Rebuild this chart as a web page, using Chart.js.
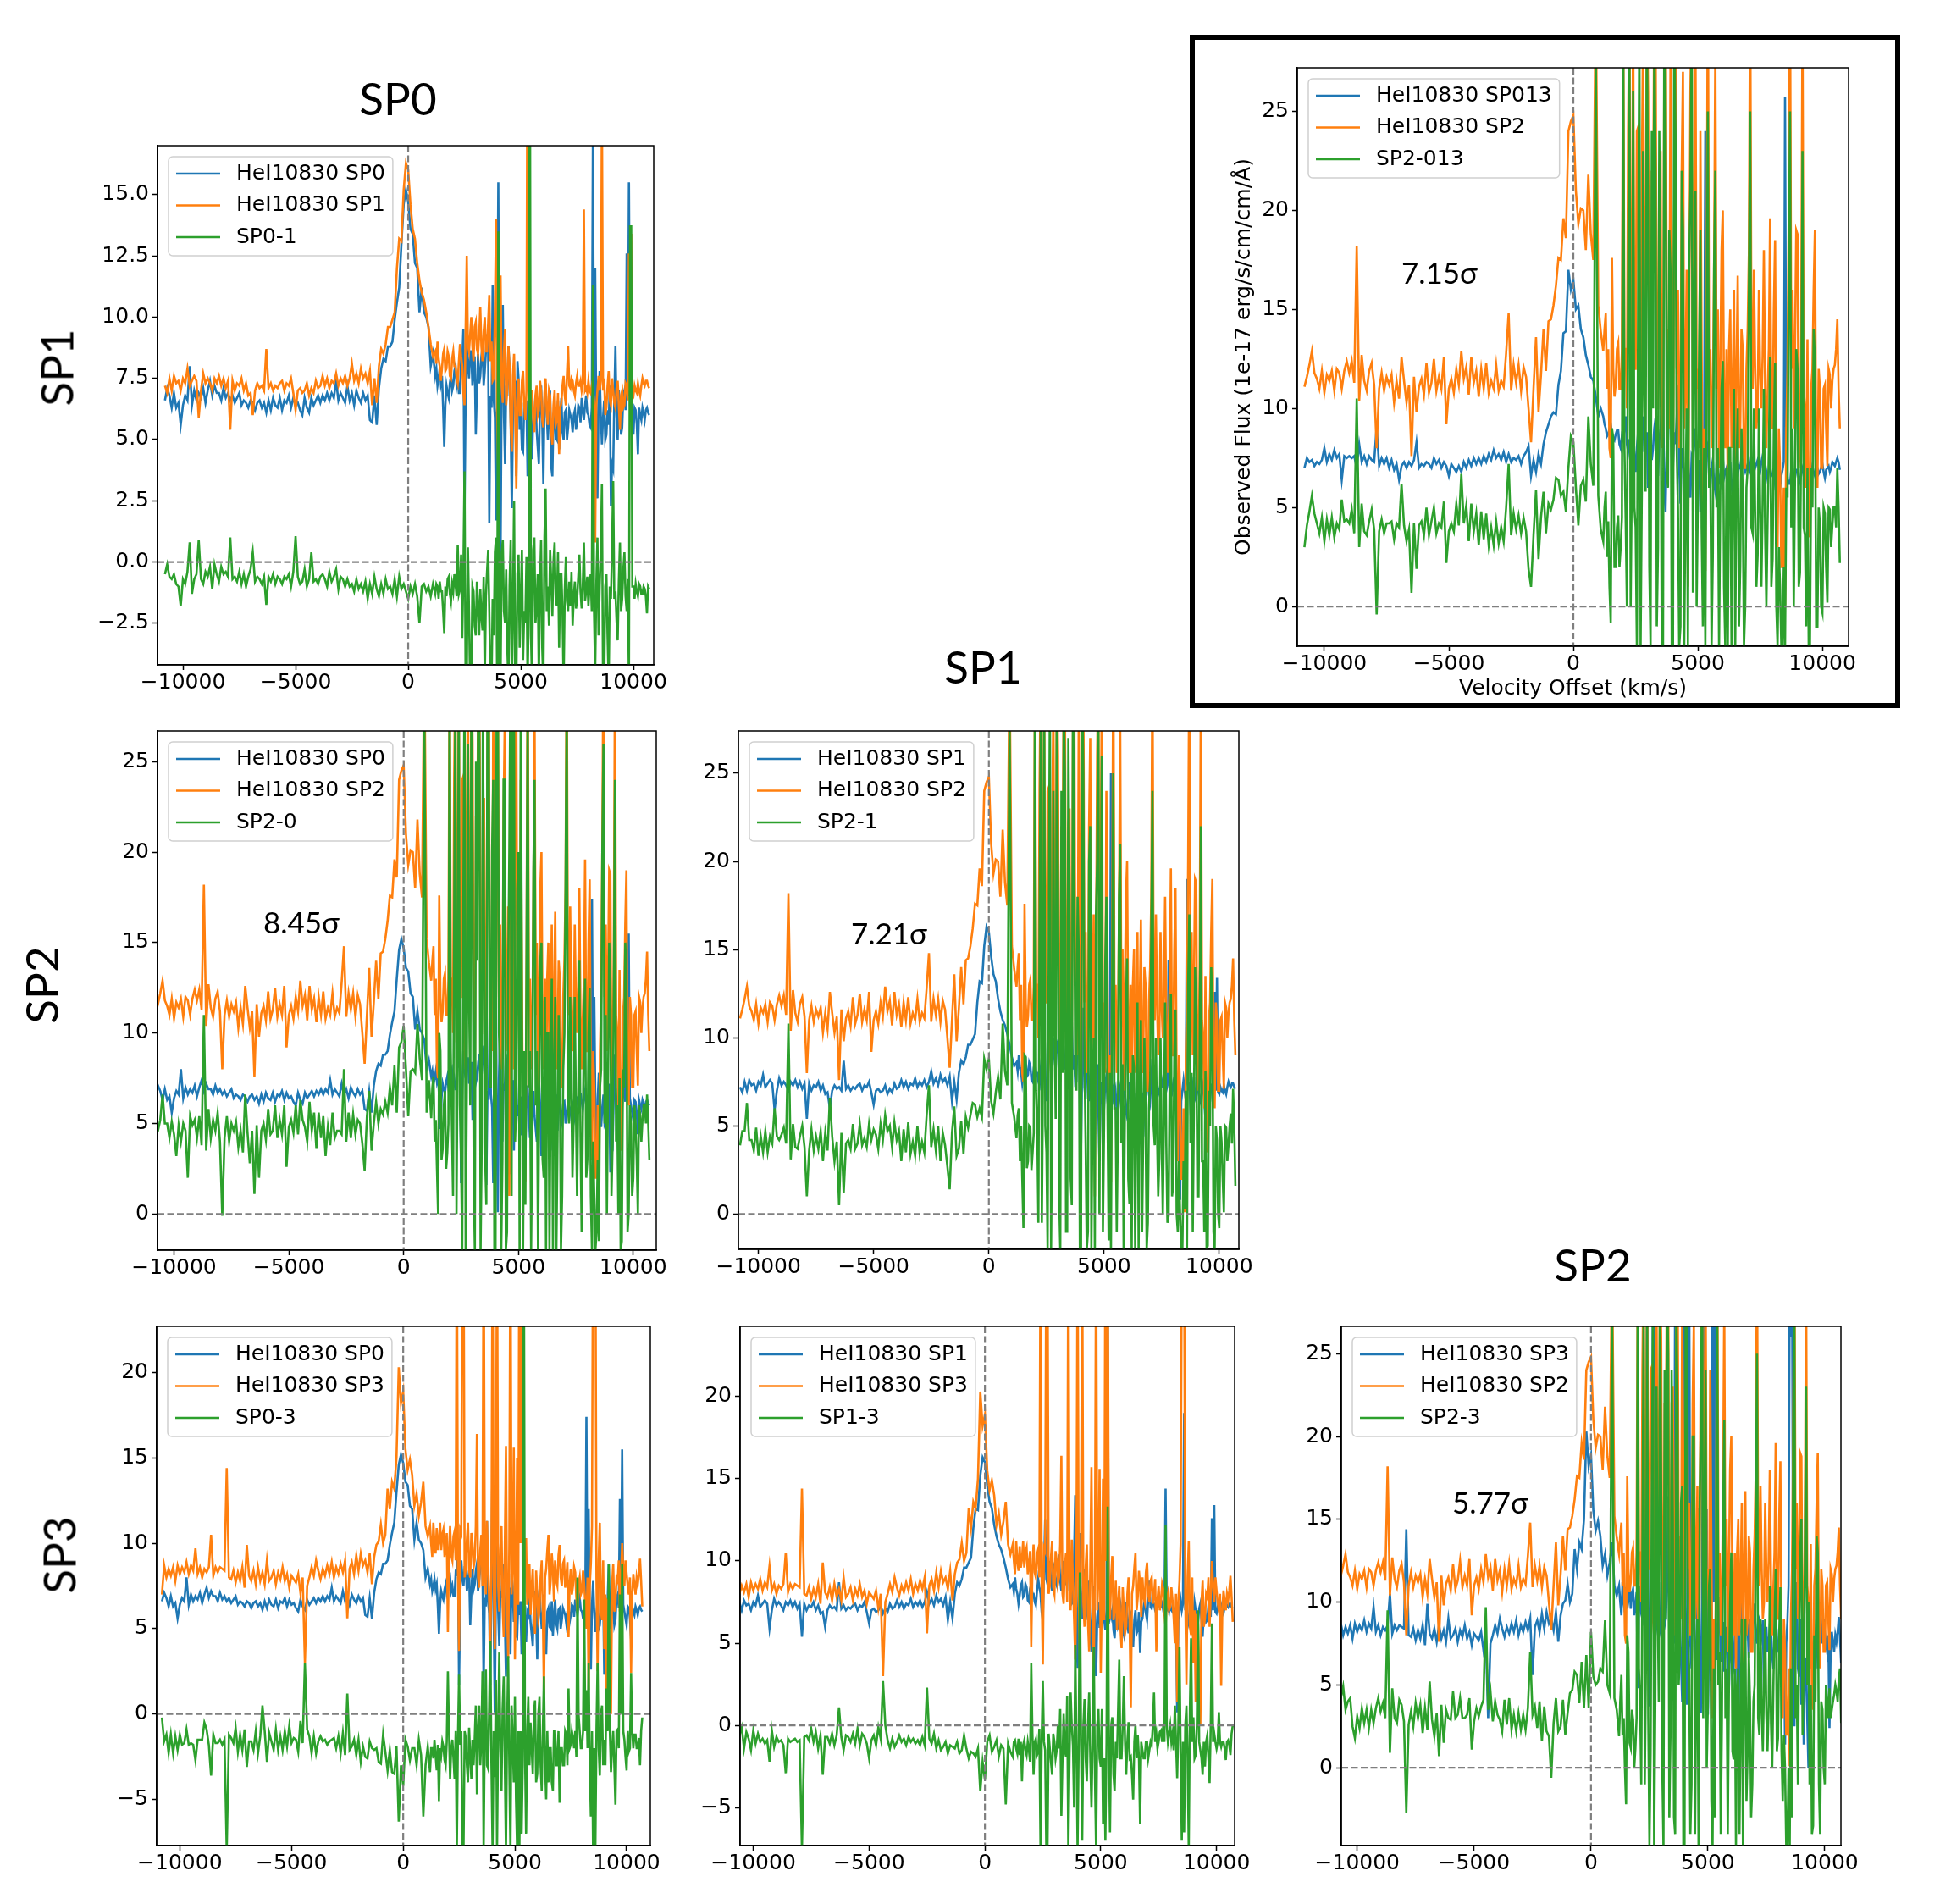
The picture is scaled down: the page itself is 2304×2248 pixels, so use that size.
<!DOCTYPE html>
<html>
<head>
<meta charset="utf-8">
<title>HeI10830 spectra comparison</title>
<script src="https://cdn.jsdelivr.net/npm/chart.js@4"></script>
<style>
    html, body { margin: 0; padding: 0; background: #fff; }
    #page { position: relative; width: 2304px; height: 2248px; overflow: hidden; }
    canvas { position: absolute; }
    .big { position: absolute; font-family: Lato, sans-serif; color: #000; white-space: nowrap; transform: translate(-50%, -50%); }
    #frame { position: absolute; border: 6px solid #000; box-sizing: border-box; }
</style>
</head>
<body>
<div id="page"></div>
<script>
// Velocity grid, km/s (finer where the spectra get noisy)
const velocity = [
    -10800,-10700,-10600,-10500,-10400,-10300,-10200,-10100,-10000,-9900,-9800,-9700,-9600,-9500,-9400,-9300,-9200,-9100,-9000,-8900,
    -8800,-8700,-8600,-8500,-8400,-8300,-8200,-8100,-8000,-7900,-7800,-7700,-7600,-7500,-7400,-7300,-7200,-7100,-7000,-6900,
    -6800,-6700,-6600,-6500,-6400,-6300,-6200,-6100,-6000,-5900,-5800,-5700,-5600,-5500,-5400,-5300,-5200,-5100,-5000,-4900,
    -4800,-4700,-4600,-4500,-4400,-4300,-4200,-4100,-4000,-3900,-3800,-3700,-3600,-3500,-3400,-3300,-3200,-3100,-3000,-2900,
    -2800,-2700,-2600,-2500,-2400,-2300,-2200,-2100,-2000,-1900,-1800,-1700,-1600,-1500,-1400,-1300,-1200,-1100,-1000,-900,
    -800,-700,-600,-500,-400,-300,-200,-100,0,100,200,300,400,500,600,700,800,900,1000,1100,
    1200,1250,1300,1350,1400,1450,1500,1550,1600,1650,1700,1750,1800,1850,1900,1950,2000,2050,2100,2150,
    2200,2250,2300,2350,2400,2450,2500,2550,2600,2650,2700,2750,2800,2850,2900,2950,3000,3050,3100,3150,
    3200,3250,3300,3350,3400,3450,3500,3550,3600,3650,3700,3750,3800,3850,3900,3950,4000,4050,4100,4150,
    4200,4250,4300,4350,4400,4450,4500,4550,4600,4650,4700,4750,4800,4850,4900,4950,5000,5050,5100,5150,
    5200,5250,5300,5350,5400,5450,5500,5550,5600,5650,5700,5750,5800,5850,5900,5950,6000,6050,6100,6150,
    6200,6250,6300,6350,6400,6450,6500,6550,6600,6650,6700,6750,6800,6850,6900,6950,7000,7050,7100,7150,
    7200,7250,7300,7350,7400,7450,7500,7550,7600,7650,7700,7750,7800,7850,7900,7950,8000,8050,8100,8150,
    8200,8250,8300,8350,8400,8450,8500,8550,8600,8650,8700,8750,8800,8850,8900,8950,9000,9050,9100,9150,
    9200,9250,9300,9350,9400,9450,9500,9550,9600,9650,9700,9750,9800,9850,9900,9950,10000,10050,10100,10150,
    10200,10250,10300,10350,10400,10450,10500,10550,10600,10650,10700
];
const xTicks = [-10000, -5000, 0, 5000, 10000];

// Spectra
const sp0 = [
    6.6,7.1,6.8,6.3,6.9,6.3,6.5,5.6,6.4,6.8,6.6,8.0,6.4,7.0,6.6,6.9,6.7,7.1,6.5,7.0,
    7.4,6.8,7.2,6.9,6.9,6.6,7.1,6.7,6.9,6.6,6.8,6.5,6.7,6.9,6.4,6.6,6.5,6.3,6.6,6.5,
    6.2,6.5,6.6,6.3,6.5,6.1,6.6,6.2,6.7,6.4,6.3,6.7,6.2,6.6,6.5,6.8,6.3,6.7,6.4,6.5,
    6.2,6.0,6.7,6.3,6.1,6.7,6.4,6.6,6.8,6.5,6.8,6.6,6.9,6.6,6.9,6.7,7.4,6.6,6.9,6.7,
    6.5,7.2,6.6,6.9,6.4,7.0,6.7,6.5,6.9,6.6,6.8,5.8,5.7,6.8,5.6,7.1,7.9,8.3,8.2,8.8,
    8.8,9.0,9.9,10.6,11.2,13.0,14.6,15.2,14.7,13.6,13.4,12.2,12.0,10.2,11.2,10.2,10.0,9.6,8.0,8.5,
    7.6,7.9,7.2,7.5,7.9,7.3,7.6,6.3,4.7,6.4,7.2,6.9,6.7,7.3,7.6,7.0,7.2,7.8,8.0,7.2,
    7.5,6.9,6.9,8.3,8.2,9.5,1.7,6.8,9.0,8.0,7.5,8.6,8.6,7.2,7.8,8.4,5.2,7.0,8.5,7.3,
    7.6,8.4,8.8,7.2,7.8,8.6,9.3,8.5,1.6,6.8,6.3,11.3,6.6,5.9,1.7,8.0,15.5,6.1,0.1,7.5,
    10.5,6.0,4.0,7.2,6.8,8.8,7.9,5.6,2.2,6.0,7.0,7.4,3.5,8.2,7.5,5.4,6.0,4.6,4.5,6.5,
    5.8,6.6,3.5,6.2,7.1,5.6,4.2,6.0,5.8,6.8,5.4,4.7,4.0,6.4,7.2,5.8,3.2,6.6,7.3,6.0,
    5.0,5.9,7.0,3.9,3.5,6.0,6.2,5.1,5.0,6.6,4.6,5.8,6.7,5.3,5.0,6.1,6.2,5.0,5.5,6.2,
    6.0,5.8,5.3,6.0,6.2,5.4,5.8,6.4,6.3,5.7,6.7,6.2,5.8,6.4,6.8,6.1,6.0,5.6,5.5,6.3,
    17.4,6.0,12.0,5.6,2.6,6.4,7.8,6.0,4.8,5.9,6.6,5.0,5.2,6.2,5.6,7.2,2.3,4.0,3.8,6.6,
    8.8,6.0,5.0,7.0,6.3,5.2,5.5,6.8,7.0,6.2,12.6,6.8,15.5,6.4,6.0,5.6,5.2,6.3,6.2,5.6,
    4.4,6.3,6.0,5.8,6.3,6.1,5.8,6.2,6.3,6.1,6.0
];
const sp1 = [
    7.2,6.9,7.5,7.0,7.6,7.3,7.4,7.0,7.5,7.3,7.9,7.2,7.4,7.6,7.4,5.9,7.0,7.7,7.3,7.5,
    7.3,7.0,7.5,7.3,7.6,7.2,7.5,7.1,7.4,5.4,7.4,7.0,7.3,7.2,7.5,7.0,7.3,6.8,6.9,6.0,
    7.0,7.3,7.1,7.2,7.0,8.7,7.1,7.3,7.0,7.2,7.1,7.3,7.4,7.0,7.3,7.2,7.5,6.9,6.2,7.0,
    7.1,6.9,7.0,7.3,6.8,7.1,6.9,7.4,7.1,7.2,7.6,7.2,7.5,7.1,7.4,7.3,7.7,7.2,7.5,7.3,
    7.6,7.2,7.5,8.1,7.4,7.7,7.3,7.9,7.5,7.7,7.3,7.8,6.4,7.5,6.5,8.0,8.7,8.5,8.9,9.6,
    9.6,9.9,10.2,12.0,13.2,13.1,15.2,16.3,16.0,14.6,13.6,13.2,12.2,11.5,11.0,10.7,10.2,9.6,8.9,8.4,
    8.6,8.1,9.0,8.3,8.0,7.4,7.9,8.5,8.7,7.8,7.9,8.6,8.4,7.6,7.5,8.3,8.6,8.0,8.0,7.5,
    7.3,8.2,8.9,8.4,8.0,6.9,6.4,9.5,12.5,8.9,8.6,9.3,10.0,8.8,8.2,9.6,9.8,8.7,8.5,9.2,
    10.4,8.8,8.2,9.4,10.0,8.6,8.6,9.8,10.9,8.2,9.0,7.4,7.5,10.2,14.0,6.0,3.5,8.4,11.7,7.2,
    6.5,8.6,9.5,6.4,7.0,8.8,8.0,5.6,4.5,7.6,8.5,6.2,3.0,6.6,7.5,6.0,6.0,7.4,7.8,6.4,
    5.8,7.0,25,6.2,7.0,6.6,7.0,5.8,5.3,6.8,7.2,6.0,6.2,7.4,7.0,5.8,5.5,6.9,7.5,6.1,
    5.6,7.0,6.8,5.3,4.8,6.4,7.0,5.6,5.8,6.9,4.4,6.3,6.5,7.2,7.6,6.8,6.4,7.7,8.8,7.2,
    7.1,7.5,7.4,7.0,6.8,7.3,7.6,7.2,7.2,7.4,7.0,7.3,14.4,7.0,7.1,6.9,7.4,7.0,6.9,7.2,
    7.0,6.6,0.8,6.4,7.0,7.6,7.0,7.4,19.0,7.0,7.5,6.0,6.3,7.2,7.8,6.6,6.4,7.5,7.0,6.5,
    6.3,7.1,7.4,6.4,5.4,6.8,7.0,6.3,6.4,7.3,7.2,6.6,12.6,7.0,13.4,6.9,6.8,7.2,7.0,6.9,
    7.3,7.0,6.8,7.2,7.5,7.3,7.2,7.4,7.4,7.2,7.1
];
const sp2 = [
    11.1,11.6,12.2,12.9,11.8,11.5,11.0,11.9,10.8,11.7,11.4,11.9,10.9,12.0,11.8,11.0,11.9,12.4,11.8,12.4,
    11.3,18.2,10.4,12.7,11.4,10.9,11.9,12.3,11.2,8.0,11.0,11.8,10.9,11.6,11.2,11.7,10.3,11.4,10.5,12.6,
    11.4,10.3,11.2,7.6,11.6,9.8,11.1,11.5,10.7,12.3,10.8,11.3,12.5,10.9,11.6,11.0,12.6,9.2,11.0,11.5,
    10.8,12.0,11.2,12.9,11.5,12.1,10.7,12.6,11.3,11.9,10.6,12.0,11.0,12.3,10.8,11.4,11.0,12.2,10.9,11.4,
    11.1,12.8,14.8,10.9,12.2,11.3,12.2,10.9,12.1,11.6,10.0,8.3,11.0,13.6,9.8,11.7,14.0,11.9,14.4,14.5,
    15.2,16.2,17.6,17.5,19.6,18.6,24.0,24.5,24.8,21.0,19.3,20.1,20.0,18.0,21.8,18.8,17.5,31,15.2,13.9,
    12.9,14.0,14.8,11.0,13.0,8.0,7.5,17.6,12.0,10.6,11.2,13.0,13.3,11.0,11.0,12.9,31,13.0,13.0,10,
    24,31,9.5,16,30,12,12,24,24.2,9,8,22,29,14,14,31,26,9,7.5,22,
    18,31,30,10,10,22,23,8,8.6,27,32,13,14,9,28,17,6,19,31,12,
    16,8,9,22,27,9,11,17,1.0,14,26,31,8,18,30,11,12,8,24,13,
    3,9,1.8,14,33,12,13,8,10,17,28,11,15,7,12,18,20,10,8,13,
    6,13,15,8,11,16,5,12,16.7,8,9,14,13,7,7,12,14,18,32,13,
    11,17,12,9,10,16,11.8,10,12.6,18,11,8,10.8,13,19.6,9,9,15,18.5,7,
    3,9,7,2,2,6,0.1,9,12,20,32,12,16,9,13,19,18.8,7,8,14,
    30,11,10,6,13.5,4,3.5,11,12,16,19,7,6,12,11,7,7,11,11.2,9,
    7.1,12,11.7,10,11.4,12,12.2,13,14.5,11,9.0
];
const sp3 = [
    7.0,8.7,8.0,8.5,8.1,8.6,7.8,8.7,8.2,8.6,8.3,8.9,8.2,8.7,8.4,9.7,8.2,8.6,8.0,8.5,
    8.3,8.6,10.5,8.1,8.6,8.3,8.6,8.5,8.4,14.4,8.0,7.9,8.4,7.7,8.3,7.8,8.6,7.4,9.9,8.1,
    7.8,8.4,7.6,8.6,7.8,8.3,7.6,9.0,7.8,8.0,8.4,7.6,8.3,7.9,8.6,7.8,8.2,7.4,8.1,7.9,
    7.7,8.2,7.1,8.0,3.0,7.5,8.0,8.6,8.1,9.0,8.4,7.9,8.5,8.1,8.7,8.2,8.9,8.0,8.6,8.2,
    8.8,8.3,9.0,5.6,8.5,8.9,8.2,9.3,8.4,9.4,8.7,9.0,8.3,9.4,7.6,9.2,9.9,10.1,11.1,10.0,
    10.5,13.2,12.0,13.6,13.2,15.0,20.3,18.2,18.9,15.5,14.3,14.9,14.0,12.2,12.9,11.6,12.4,13.6,11.0,10.4,
    11.0,10.0,9.2,11.2,10.0,9.4,10.9,9.6,10.1,11.2,9.6,10.5,10.8,9.2,9.8,10.6,4.8,9.6,11.0,9.3,
    9.0,10.4,10.7,9.0,30,8.4,3.7,10.8,10.6,30,30,8.0,8.5,10.2,11.2,8.4,8.0,10.6,10.0,8.6,
    9.0,11.0,16.4,8.0,7.4,9.6,10.5,7.5,30,9.0,7.0,11.3,8.7,6.5,4.0,9.0,30,8.0,3.8,10.5,
    30,7.5,6.0,9.6,11.0,6.3,4.5,9.8,15.7,6.0,3.3,10,30,7.0,9.0,15.6,3.2,8.0,15.0,6.4,
    30,10,30,8.0,6.5,9.0,10.3,6.4,7.0,8.8,5.8,7.4,8.5,6.0,4.7,8.4,7.0,5.6,6.0,8.0,
    9.0,6.0,1.1,8.0,8.5,9.6,10.5,7.0,7.8,9.4,8.5,6.6,9.0,7.8,7.5,9.3,9.9,8.0,7.5,8.8,
    9.0,7.4,8.0,8.9,4.5,7.6,8.5,7.0,7.5,8.6,8.3,6.8,6.0,7.6,8.0,7.0,7.2,8.4,7.6,6.5,
    5.0,8.0,1.4,7.5,8.8,11,30,26,30,8,2.5,9,11.2,6,5.5,9,3.8,7,1.4,6.6,
    6.5,3,0.0,7.5,8.8,6,6.5,8,7.8,9,6.0,8,10.0,8.5,7.5,9,8.2,7.5,7.0,8,
    2.4,7,8.2,7.6,7.0,8.0,7.6,8.2,9.1,7.8,6.3
];
const sp013 = [
    7.0,7.5,7.3,7.4,7.1,7.3,7.2,7.4,8.0,7.3,7.7,7.4,7.9,7.5,7.7,6.4,7.6,7.5,7.6,7.5,
    7.6,7.0,8.2,7.3,7.6,7.2,7.6,7.4,7.3,9.1,7.1,7.5,7.2,7.5,7.0,7.4,6.9,7.2,6.4,7.1,
    7.3,7.0,7.3,7.1,7.4,8.3,7.0,7.2,7.1,7.3,7.2,7.0,7.5,7.2,7.4,7.0,7.3,7.1,6.6,7.2,
    7.0,6.8,7.1,6.8,7.3,7.0,7.4,7.1,7.5,7.2,7.5,7.2,7.6,7.3,7.7,7.4,7.9,7.5,7.7,7.4,
    7.8,7.3,7.7,7.3,7.5,7.4,7.6,7.2,7.6,7.8,8.1,6.6,7.4,6.8,7.7,7.2,8.2,8.8,9.2,9.6,
    9.8,9.7,11.2,11.9,13.8,13.9,17.0,16.0,16.5,15.0,15.2,14.0,13.6,12.7,12.2,11.6,11.4,10.6,9.6,10.0,
    9.6,9.2,9.0,8.6,8.7,9.0,9.2,8.8,8.5,8.4,8.7,8.9,8.9,8.2,8.0,8.6,8.4,9.0,9.6,8.2,
    7.8,8.4,8.5,8.8,9.0,7.6,6.8,8.0,8.8,7.9,7.5,9.0,9.6,7.8,8.2,8.8,6.0,8.0,8.6,7.4,
    8.0,9.0,9.5,7.2,6.6,8.4,9.0,10.0,10.9,6.0,4.8,8.0,8.4,10.5,11.4,7.5,7.0,8.8,8.2,9.5,
    11.2,7.0,5.2,8.0,7.5,6.4,6.0,7.8,8.0,6.2,5.5,7.6,7.4,8.4,9.0,7.0,6.5,7.4,4.8,6.8,
    7.2,8.0,24,7.6,8.0,6.6,6.0,7.0,7.4,6.2,5.8,7.2,7.0,6.4,6.2,7.3,7.6,6.5,6.8,7.0,
    6.0,6.8,7.3,6.2,5.5,7.0,7.8,6.6,6.6,7.1,7.0,7.5,7.4,7.0,6.8,7.0,7.2,7.4,6.9,7.1,
    7.3,7.1,7.0,7.2,7.4,6.9,6.8,7.3,7.6,7.3,7.2,6.8,6.4,6.9,7.0,6.7,6.6,6.8,6.2,6.5,
    6.8,6.3,6.0,6.6,6.9,7.3,25.7,7.0,6.5,6.2,6.2,6.9,7.0,6.6,6.5,6.9,6.9,6.5,6.3,6.8,
    7.0,6.6,6.4,6.8,6.9,6.2,5.8,6.7,7.1,6.8,6.6,7.0,7.0,6.7,6.8,7.0,7.2,6.8,6.5,6.9,
    7.0,7.1,6.8,7.0,7.3,7.2,7.1,7.3,7.5,7.3,6.9
];

// Difference spectra
const diff01 = [
    -0.5,-0.1,-0.6,-0.7,-0.5,-0.9,-1.0,-1.8,-0.7,-0.9,-0.4,0.8,-1.3,-0.7,-0.5,0.9,-0.7,-0.9,-0.4,-0.6,
    -0.2,-1.1,-0.1,-0.5,-0.8,-0.2,-0.5,-0.4,-0.6,1.0,-0.7,-0.6,-0.8,-0.4,-0.9,-0.5,-1.0,-0.6,-0.3,0.4,
    -0.8,-0.6,-0.7,-0.9,-0.6,-1.75,-0.6,-0.8,-0.5,-0.9,-0.6,-0.7,-0.9,-0.6,-0.7,-0.5,-1.0,-0.4,1.05,-0.6,
    -0.9,-0.8,-0.3,-1.0,-0.7,0.4,-0.8,-0.7,-0.9,-0.6,-0.5,-0.7,-1.0,-0.4,-0.8,-0.6,-0.3,-1.1,-0.6,-0.7,
    -1.0,-0.7,-1.0,-0.9,-1.2,-0.7,-1.1,-0.9,-1.2,-0.8,-1.5,-0.9,-1.3,-0.6,-1.1,-1.4,-0.9,-1.3,-0.7,-1.1,
    -1.0,-1.3,-0.7,-1.4,-0.6,-1.1,-0.9,-1.2,-1.5,-1.0,-1.3,-0.9,-1.4,-2.5,-1.0,-0.9,-1.2,-1.0,-1.4,-0.9,
    -1.3,-0.9,-1.0,-1.5,-0.8,-1.2,-1.2,-2.0,-2.9,-1.0,-1.4,-0.7,-0.6,-1.3,-1.6,-0.9,-1.2,-0.5,-0.9,-1.4,
    0.7,-1.3,-1.1,0.3,-3.1,-0.4,3.7,-5,-4.8,0.6,-2.0,-5,-5,-1.0,-1.2,-2.6,-3.0,-0.8,-1.8,-3,
    -1.1,-2.2,-2.8,-0.6,-4.8,-1.4,-0.4,0.5,-2.0,-5,-5,-1.5,-3.0,0.4,1.0,-5,13.5,-5,-5,0.4,
    0.9,-2,-2.5,-0.3,-3.5,-5,-1.0,0.9,-5,-2,2.5,-5,-5,-0.5,0.3,-3.5,-1.5,0.5,-4,-2,
    -2.5,0.2,-5,-2,24,-3,-5,0.5,1.0,-2.5,-1.8,-0.5,-4.8,-1,0.9,-3.5,-5,1.0,3.0,-2,
    -1.0,-2.6,0.5,-0.8,-2.2,0.0,0.8,-1.5,-1.8,0.4,-3.5,-0.5,-0.5,-2,-5,-1.2,0.2,-1.6,-2.0,-0.8,
    -1.8,-0.4,-2.6,-1.4,-0.8,-1.9,-1.5,-0.6,0.3,-1.2,-1.9,-1.0,0.8,-1.6,-1.2,-0.6,-1.8,-1.0,-0.5,-2,
    11.3,-2,-4.5,-1,1.0,-3,-1.0,0.4,3.2,-5,-5,-1,-0.5,-3,-5,-1,-1.5,0.5,3.3,-1.5,
    -1.2,-2.4,-3.2,-0.8,0.8,-2,-1.5,-0.3,0.4,-1.4,-2.0,-0.7,-5,13.7,13.7,-1.0,-1.0,-1.5,-0.9,-1.2,
    -1.4,-0.9,-1.0,-1.3,-1.3,-1.0,-1.1,-1.4,-2.1,-1.0,-1.1
];
const diff20 = [
    4.4,4.6,5.2,6.6,5.0,5.0,4.2,5.1,4.4,3.2,4.9,4.0,5.0,4.6,2.0,5.4,4.9,5.2,4.2,5.4,
    3.8,11.0,3.5,5.8,4.2,5.2,4.6,5.6,4.0,-0.1,4.2,5.4,4.0,5.0,4.6,5.1,3.7,4.6,3.4,6.6,
    4.5,2.8,4.6,1.1,4.9,2.0,4.6,5.0,4.1,5.8,4.4,4.6,6.0,4.2,5.2,4.4,6.0,2.6,4.8,5.2,
    4.5,6.0,4.4,6.3,5.2,4.8,4.0,6.2,4.6,5.6,3.6,5.6,4.2,5.4,3.2,4.8,3.8,5.6,4.2,4.6,
    4.6,4.4,8.0,4.0,5.6,4.2,5.5,4.4,5.2,5.0,3.9,2.4,5.4,6.8,3.5,5.0,6.2,5.0,5.8,5.5,
    6.2,5.6,7.0,6.0,8.2,5.6,9.2,9.5,10.4,8.0,5.4,7.9,8.0,7.8,10.5,8.6,7.4,28,5.6,7.4,
    5.3,7.0,7.6,4.0,5.2,2.5,0.0,10.0,9.0,3.0,3.6,6.0,6.8,2.5,3.4,5.0,30,9,5.0,1,
    16.5,29,0,9,30,6,3.0,-2,17,30,-2,7,26,12,6,30,20,2,-2,25,
    14,30,26,-2,4,28,16,3,0.5,30,30,7,7,20,24,-2,-2,30,30,10,
    8,-2,3,24,24,-2,-1,13,20,30,1,28,30,4,6,18,20,-2,30,11,
    -2,9,0.5,14,28,7,9,-2,5,19,24,6,9,-2,6,14,15,3,2,12,
    -2,10,10,-2,7,13,-2,8,12,-2,4,11,8,-2,1,8,10,18,28,6,
    5,12,7,2,5,12,6,1,6,14,4.3,-1,5,10,13,2,3,10,12.5,1,
    -2,4,1,-2,-1,3,-1.5,7,8,20,26,5,11,0,7,15,13,1,4,12,
    24,4,6,0,7.5,-2,-1.5,8,7,15,13.2,-1,0,6,5,1,2,6,5,3,
    0,6,5.5,4,5.2,6,6,5,6.6,5,3.0
];
const diff21 = [
    3.9,4.7,4.7,6.3,4.2,4.2,3.6,4.9,3.3,4.4,3.5,4.7,3.5,4.4,4.0,6.0,4.4,4.2,4.5,4.9,
    4.0,10.8,3.1,5.1,3.8,3.7,4.4,5.0,3.8,1.0,3.6,4.8,3.6,4.4,3.7,4.7,3.0,4.6,3.6,6.6,
    4.4,3.0,4.1,0.5,4.6,1.2,4.0,4.2,3.7,5.1,3.7,4.0,5.1,3.9,4.3,3.8,5.1,4.2,4.8,4.5,
    3.7,5.1,4.2,5.6,4.7,5.0,3.8,5.2,4.2,4.7,3.0,4.8,3.5,5.2,3.4,4.1,3.3,5.0,3.4,4.1,
    3.5,5.6,7.3,3.8,4.8,3.6,5.0,3.0,4.6,3.9,2.7,1.4,4.6,6.1,3.3,3.7,5.3,3.4,5.5,4.9,
    5.6,6.3,6.2,5.5,6.0,5.5,8.8,8.2,8.8,6.4,5.7,6.9,7.8,6.5,10.8,8.1,7.3,28,6.3,5.5,
    4.3,5.6,6.0,3.0,5.0,2.0,-0.8,9.0,8.9,2.6,3.0,5.0,4.9,2.5,3.5,4.6,30,7,5.0,-0.5,
    16,28,-0.5,8,30,5,3.5,-2,16,30,-2,6,24,11,5.4,30,19,1,-2,24,
    8,29,25,-1,-1,27,18,2,0.5,30,22,8,7,18,15,-2,-2,30,25,9,
    4,-2,-1,20,22,-2,6,10,-2,17,20,30,0,15,26,-1,5,14,18,6,
    -1.5,8,-2,12,25,6,6,-1,5,18,21,4,8.5,-2,5,12,14.5,2,0.6,8,
    -2,9,8.3,-2,6,12,-2,7,11,-1,4.6,10,6,-2,-0.5,6,7.5,16,24,5,
    3.9,10,4.6,1,3.2,10,4.2,0,5.4,12,4.0,-0.5,-0.1,8,12.5,1,1.6,9,11.6,0,
    -1,3,-0.1,-2,-2,3,0.3,7,-2,13,17,4,8,-1,6,14,11,1,1,9,
    22,3,3.0,-1,8.1,-2,-1.8,7,5.0,14,11.6,-1,-2,5,4.2,0,-0.8,5,4.1,2,
    0.1,5,4.9,3,3.9,5,5.7,4,7.1,5,1.6
];
const diff03 = [
    -0.2,-1.6,-1.2,-2.3,-1.2,-2.3,-1.3,-2.1,-1.2,-1.8,-1.7,-0.9,-1.8,-1.7,-1.8,-2.7,-1.5,-1.5,-1.5,-0.5,
    -0.9,-1.8,-3.6,-1.2,-1.7,-1.7,-1.5,-1.8,-1.5,-8.0,-1.2,-1.4,-1.7,-0.8,-2.2,-1.2,-2.1,-0.9,-3.1,-1.6,
    -1.6,-2.1,-1.0,-2.3,-1.3,0.5,-1.0,-2.8,-1.1,-1.6,-2.1,-0.9,-2.1,-1.3,-2.1,-1.0,-1.9,-0.7,-1.7,-1.4,
    -1.5,-2.2,-0.4,-1.7,3.0,-0.9,-1.3,-2.3,-1.3,-2.3,-1.6,-1.3,-1.6,-1.5,-1.8,-1.6,-1.5,-1.4,-2.0,-1.3,
    -2.3,-1.1,-2.4,1.2,-2.1,-1.9,-1.5,-2.4,-1.5,-2.8,-1.9,-2.5,-2.6,-1.6,-2.0,-2.1,-2.0,-2.8,-2.9,-1.2,
    -2.2,-3.3,-2.1,-3.4,-3.5,-1.9,-6.3,-3.0,-4.2,-1.5,-1.9,-2.7,-2.0,-2.0,-3.0,-1.5,-2.4,-6.0,-3.0,-1.9,
    -3.4,-2.0,-2.0,-2.6,-1.5,-2.4,-3.3,-1.8,-5.1,-2.0,-2.4,-1.6,-1.9,-2.7,-3.0,-1.6,2.5,-1.0,-3.8,-2.0,
    -1.5,-2.6,-3.8,-1.0,-8,-1.5,2.3,-1.8,-1.0,-8,-8,-1,-1.4,-3.0,-4.0,-0.8,-2.5,-3.8,-1.5,-3,
    -1.4,0.5,-4.7,-1.0,0.5,-3.0,-1.5,2.5,-8,-1,2.6,-3,-3.2,0.5,4.3,-3,-8,-1,-3.7,2,
    -8,-1,3.6,-2,-4.5,0.3,2.2,-3,-8,-1,3.4,-3,-8,0.5,-1.5,-4,1.0,-5,-8,-1,
    -8,-1,-7,-3,30,-2,-7,-1,1.0,-3,-0.5,-2,-3.5,0,0.8,-4,-3.5,0,1.0,-3,
    -4.5,-1,2.2,-3,-5.0,-1,-4.0,-2,-2.0,-4,-4.5,-1,-1.0,-3,-3.0,-1,-5.2,-2,-2.0,-3,
    -3.0,-1,-1.2,-3,1.5,-2,-1.8,-1,-1.4,-2,-1.0,-2.5,8.0,0,-1.0,-2,-2.0,-1,6.7,-1,
    1.4,-2,3.0,-3,-6,-1,-8,-2,-8,-1,3.0,-2,-3.6,0,0.5,-3,-1.5,-3,1.5,-1,
    8.8,-1,-3.4,-2,-1.0,-3,-5.3,-1,-0.9,-2,7.0,0,8.8,-1,-1.5,-2.5,-3.3,-1,-2.2,-2,
    2.4,-1,-2.0,-1.2,-1.2,-2,-2.0,-1.4,-3.0,-1,-0.2
];
const diff13 = [
    -0.8,-2.1,-0.6,-0.1,-1.4,-0.4,-0.8,-1.5,-0.3,-1.1,-0.5,-1.0,-0.8,-1.1,-0.9,-2.2,-0.3,-1.3,-0.7,-1.0,
    -0.9,-1.2,-2.9,-0.8,-1.0,-0.9,-0.8,-1.0,-0.9,-7.5,-0.7,-0.6,-0.9,-0.2,-1.0,-0.4,-1.4,-0.6,-3.0,-0.7,
    -0.7,-1.1,-0.5,-1.2,-0.6,1.1,-0.7,-1.5,-0.6,-0.7,-1.0,-0.5,-1.1,-0.2,-1.2,-0.5,-0.7,-1.1,-2.0,-0.9,
    -0.6,-1.2,-0.1,-0.8,2.7,0.0,-0.9,-1.4,-0.8,-1.3,-1.0,-0.6,-1.0,-0.8,-1.2,-0.7,-1.0,-0.8,-1.1,-0.9,
    -1.2,-0.7,-1.2,2.3,-0.8,-1.1,-0.5,-1.4,-0.9,-1.5,-1.3,-1.0,-1.7,-1.2,-1.3,-1.4,-1.0,-1.7,-1.5,-0.6,
    -1.4,-2.0,-1.6,-1.7,-1.9,-1.4,-4.0,-2.2,-3.3,-1.0,-0.6,-1.6,-1.3,-0.9,-1.9,-1.2,-1.4,-4.8,-1.1,-1.6,
    -1.9,-1.0,-0.9,-1.4,-1.7,-0.8,-1.8,-1.0,-3.4,-1.2,-0.9,-1.5,-1.8,-1.0,-1.5,-2.2,3.8,-0.5,-3.0,-1.0,
    -0.8,-1.8,-1.6,-0.2,-7.5,-1,2.7,-1,-1.5,-7.5,-7.5,-0.5,-1.4,-2.2,-3.0,-0.5,-1.0,-2.0,-1.5,0,
    -1.4,1,-5.5,-2,0.7,-1.5,-1.9,1.8,-7.5,-2,2.0,0,-1.2,-5,4.9,-1,-7.5,-1,9.3,-1,
    -7,0,1.6,-2,-3.4,0,2.0,-2,-5,-1,4.8,-3,-7.5,0,1.0,-2,-2.5,1,-6,-2,
    -7,-1,13.3,-1,-6.5,0,0.5,-3,-4.0,-1,-2,1,4.0,-2,-2,0,3,-1,-3.0,-1,
    0.2,-2,-1.9,-3,-4.5,-1,0.0,-2,-0.6,-2,-6.0,-1,-1.5,-2,-2.0,-1,-1.0,-2,-1.5,-1,
    -1.2,0,2.0,-1,-0.5,-1.4,-1.0,-0.4,-0.3,-1,0.0,-1,12.2,0,-1.0,-0.5,0,-1,-0.5,-1.5,
    1.2,-1,-3.2,0,4.8,-2,-7,-1,-6.5,0,1.2,-2,-7.5,1,5.3,-1,0.5,-2,-1.8,0,
    7.0,-1,-1.5,-2,-3,-1,-2.5,-1,-0.6,-2,-3.5,0,6.2,-1,-0.5,-1,-1.4,-1,0.8,-1,
    -1.3,-1,-1.0,-1.4,-2.1,-1,-0.9,-1.2,-1.8,-0.5,0.0
];
const diff23 = [
    3.6,4.2,4.9,3.5,4.0,4.2,2.5,1.8,3.1,2.4,3.6,2.7,3.5,2.4,3.5,2.7,3.6,4.2,3.4,3.9,
    3.0,9.5,0.9,4.8,3.0,2.7,4.1,3.8,2.8,-2.7,2.6,3.4,2.5,3.9,3.0,3.8,2.1,3.6,2.3,5.2,
    2.9,1.9,3.3,0.7,3.8,1.5,3.5,3.0,2.9,4.6,3.0,3.2,4.2,3.0,3.0,3.2,4.2,1.1,2.8,3.6,
    3.1,3.7,4.1,9.7,3.5,4.6,2.8,4.0,3.2,2.9,2.2,4.1,2.6,4.2,2.3,3.2,2.2,3.3,2.3,3.2,
    2.3,3.6,7.0,3.2,3.7,2.4,4.0,1.6,3.7,2.2,1.9,-0.6,2.7,4.2,2.2,2.5,4.1,2.0,3.3,4.5,
    4.7,5.8,5.6,3.9,6.4,3.6,6.8,3.6,8.2,5.5,5.0,5.2,6.0,5.8,8.9,5.0,4.5,28,4.2,3.5,
    1.9,4.0,5.6,2.0,3.0,0.0,-2.2,8,7.0,1.5,1.2,3.5,2.9,0,1.2,3.0,30,6,4.0,-1,
    13,27,-1,6,28,3,-4.7,1,16,28,-4.7,4,23,10,4,30,17,0,-4.7,24,
    9,30,25,-3,2,24,15,-3,-4,28,22,5,7,16,17,-4.7,-4.7,28,26,8,
    6,-4,-1,20,20,-4,5,9,-4.7,16,21,30,3,14,24,0,4,11,12,-2,
    -4.7,6,-3,13,27,5,7,-4,3,15,21,3,6,-4,5,10,13,1,0.5,6,
    -4.7,5,6,-4,3,9,-4.7,6,9,-2,1,7,4,-3,-1,4,5,14,25,3,
    2,9,3.5,1,5,9,3.2,1,3.8,11,2.7,0,4.8,9,12,1,1.8,8,10.9,1,
    -2,2,-0.1,-4.7,-4.7,0,-4.7,6,-3,20,27,3,5,-1,7.5,13,15,2,7,12,
    23,5,10,-1,5,-4,-3.5,8,4,14,13,-1,-4,4,3.5,0,-1,5,4,3,
    4.8,3,3.5,4,4.4,5,4.6,4,5.4,6,2.7
];
const diff2013 = [
    3.0,4.1,4.8,5.6,4.7,4.2,3.7,4.5,3.3,4.4,3.6,4.5,3.5,4.2,3.9,5.4,4.3,4.4,4.2,4.9,
    3.7,10.5,3.0,5.2,3.8,3.6,4.3,4.9,3.9,-0.4,3.8,4.4,3.7,4.2,4.2,4.3,3.4,4.2,4.0,6.2,
    4.1,3.3,3.9,0.7,4.2,1.9,4.1,4.3,3.6,5.0,3.6,4.3,5.0,3.7,4.2,4.0,5.3,2.2,3.8,4.2,
    3.8,5.2,4.1,6.7,4.2,5.1,3.3,5.2,3.8,4.7,3.1,4.8,3.4,4.7,3.1,4.0,3.1,4.3,3.2,4.0,
    3.3,5.0,7.2,3.6,4.7,3.9,4.6,3.7,4.5,3.8,1.9,1.0,3.6,5.9,2.4,4.5,5.8,3.7,5.2,4.9,
    5.4,6.5,6.4,5.6,5.8,4.8,7.0,8.6,8.3,6.0,4.1,6.1,6.4,5.3,9.6,7.2,6.1,28,5.6,3.9,
    3.3,5.0,5.8,2.5,4.3,1.0,-0.8,9.0,8.5,2.0,2.0,4.0,4.6,2.0,3.0,4.5,30,8,4.4,0,
    16.5,29,0,7,26,5,4,-2,15,30,-2,6,23,11,5.8,30,20,2,-2,24,
    10,29,22,-1,3,24,14,-2,-2,30,27,7,6,19,17,-2,-2,30,24,8,
    5,-2,-1,22,19,-2,5,10,-2,17,21,30,0.7,15,21,0,5.5,13,19,4,
    -1,8,-2,12,25,6,7,-2,2.6,17,22,5,8,-2,5.8,11,12.4,1,-2,7,
    -2,8,8,-2,5.5,11,-2,7,10,-1,2,9,5.6,-2,0,6,7,16,25,4,
    3.7,10,4.6,1,2.6,10,5,1,5.2,11,3.8,0,4.4,8,12.6,1,2.4,9,12.3,0,
    -2,3,1.0,-2,-2,2,-2,6,5.5,17,25,4,9,0,6.5,13,12,1,1.7,9,
    23,4,3.6,-1,7,-2,-2,7,5,14,12.4,-1,-1,5,4.2,0,-0.3,5,4.7,2,
    0.2,5,4.9,3,4.1,5,5.0,4,7.0,5,2.2
];

// Page labels
const columnTitles = [['SP0', 470, 115], ['SP1', 1161, 786], ['SP2', 1881, 1492]];
const rowTitles = [['SP1', 66, 434], ['SP2', 48, 1163], ['SP3', 69, 1836]];
const sigmaLabels = [['7.15σ', 1700, 321], ['8.45σ', 356, 1088], ['7.21σ', 1050, 1101], ['5.77σ', 1760, 1773]];

// One entry per panel: names, series and the axes box on the page
const panels = [
    { names: ['HeI10830 SP0', 'HeI10830 SP1', 'SP0-1'], series: [sp0, sp1, diff01],
      box: [186, 772, 172, 785], xRange: [-11130, 10900], yRange: [-4.2, 17], yStep: 2.5 },
    { names: ['HeI10830 SP013', 'HeI10830 SP2', 'SP2-013'], series: [sp013, sp2, diff2013],
      box: [1532, 2183, 80, 763], xRange: [-11087, 11050], yRange: [-2, 27.2], yStep: 5, titles: true },
    { names: ['HeI10830 SP0', 'HeI10830 SP2', 'SP2-0'], series: [sp0, sp2, diff20],
      box: [186, 775, 863, 1476], xRange: [-10720, 11000], yRange: [-2, 26.7], yStep: 5 },
    { names: ['HeI10830 SP1', 'HeI10830 SP2', 'SP2-1'], series: [sp1, sp2, diff21],
      box: [872, 1463, 863, 1475], xRange: [-10870, 10850], yRange: [-2, 27.4], yStep: 5 },
    { names: ['HeI10830 SP0', 'HeI10830 SP3', 'SP0-3'], series: [sp0, sp3, diff03],
      box: [185, 768, 1566, 2179], xRange: [-11036, 11062], yRange: [-7.7, 22.7], yStep: 5 },
    { names: ['HeI10830 SP1', 'HeI10830 SP3', 'SP1-3'], series: [sp1, sp3, diff13],
      box: [874, 1458, 1566, 2179], xRange: [-10570, 10780], yRange: [-7.3, 24.26], yStep: 5 },
    { names: ['HeI10830 SP3', 'HeI10830 SP2', 'SP2-3'], series: [sp3, sp2, diff23],
      box: [1584, 2174, 1566, 2179], xRange: [-10680, 10690], yRange: [-4.7, 26.65], yStep: 5 }
];

const COLORS = ['#1f77b4', '#ff7f0e', '#2ca02c'];
const TICK_FONT = { family: '"DejaVu Sans"', size: 25 };
const PAD = { left: 100, right: 36, top: 12, bottom: 66 };

// Matplotlib style minus sign
function formatTick(value, digits) {
    const text = Math.abs(value).toFixed(digits);
    return value < 0 ? '\u2212' + text : text;
}

// Frame, dashed zero lines and the legend box inside the axes
const panelDecor = {
    id: 'panelDecor',
    afterDatasetsDraw(chart) {
        const { ctx, chartArea: area, scales } = chart;
        ctx.save();
        ctx.strokeStyle = '#7f7f7f';
        ctx.lineWidth = 2.2;
        ctx.setLineDash([8, 3.5]);
        const x0 = scales.x.getPixelForValue(0);
        const y0 = scales.y.getPixelForValue(0);
        ctx.beginPath();
        ctx.moveTo(x0, area.top);
        ctx.lineTo(x0, area.bottom);
        ctx.moveTo(area.left, y0);
        ctx.lineTo(area.right, y0);
        ctx.stroke();
        ctx.setLineDash([]);

        ctx.strokeStyle = '#000';
        ctx.lineWidth = 1.5;
        ctx.strokeRect(area.left, area.top, area.right - area.left, area.bottom - area.top);

        // legend
        ctx.font = '25px "DejaVu Sans"';
        const labels = chart.data.datasets.map(d => d.label);
        const textWidth = Math.max(...labels.map(t => ctx.measureText(t).width));
        const left = area.left + 13;
        const top = area.top + 13;
        ctx.beginPath();
        ctx.roundRect(left, top, 9 + 52 + 19 + textWidth + 9, 117, 5);
        ctx.fillStyle = 'rgba(255,255,255,0.8)';
        ctx.fill();
        ctx.strokeStyle = '#d0d0d0';
        ctx.lineWidth = 1.5;
        ctx.stroke();
        ctx.textBaseline = 'middle';
        labels.forEach((label, i) => {
            const y = top + 20 + i * 37.5;
            ctx.strokeStyle = COLORS[i];
            ctx.lineWidth = 2.5;
            ctx.beginPath();
            ctx.moveTo(left + 9, y);
            ctx.lineTo(left + 61, y);
            ctx.stroke();
            ctx.fillStyle = '#000';
            ctx.fillText(label, left + 80, y);
        });
        ctx.restore();
    }
};

function renderPanel(page, panel) {
    const [left, right, top, bottom] = panel.box;
    const canvas = document.createElement('canvas');
    canvas.width = right - left + PAD.left + PAD.right;
    canvas.height = bottom - top + PAD.top + PAD.bottom;
    canvas.style.left = (left - PAD.left) + 'px';
    canvas.style.top = (top - PAD.top) + 'px';
    page.appendChild(canvas);

    const tickOptions = { color: '#000', font: TICK_FONT, includeBounds: false, autoSkip: false, maxRotation: 0 };
    const gridOptions = { drawOnChartArea: false, drawTicks: true, tickLength: 6, tickColor: '#000', tickWidth: 1.5 };

    new Chart(canvas.getContext('2d'), {
        type: 'line',
        data: {
            datasets: panel.series.map((values, i) => ({
                label: panel.names[i],
                data: velocity.map((v, j) => ({ x: v, y: values[j] })),
                borderColor: COLORS[i],
                borderWidth: 2.6,
                pointRadius: 0,
                tension: 0,
                order: 3 - i // difference spectrum stays on top
            }))
        },
        options: {
            responsive: false,
            animation: false,
            devicePixelRatio: 1,
            layout: { padding: { left: 0, top: PAD.top, right: PAD.right, bottom: 0 } },
            plugins: { legend: { display: false }, tooltip: { enabled: false } },
            scales: {
                x: {
                    type: 'linear',
                    min: panel.xRange[0],
                    max: panel.xRange[1],
                    // keep the axes box where it was asked for
                    afterFit: scale => { scale.height = PAD.bottom; scale.paddingLeft = 0; scale.paddingRight = 0; },
                    afterBuildTicks: scale => { scale.ticks = xTicks.map(value => ({ value })); },
                    grid: gridOptions,
                    border: { color: '#000', width: 1.5 },
                    ticks: { ...tickOptions, padding: 0, callback: v => formatTick(v, 0) },
                    title: {
                        display: !!panel.titles,
                        text: 'Velocity Offset (km/s)',
                        color: '#000',
                        font: TICK_FONT,
                        padding: { top: 0, bottom: 1 }
                    }
                },
                y: {
                    min: panel.yRange[0],
                    max: panel.yRange[1],
                    afterFit: scale => { scale.width = PAD.left; scale.paddingTop = 0; scale.paddingBottom = 0; },
                    grid: gridOptions,
                    border: { color: '#000', width: 1.5 },
                    ticks: { ...tickOptions, padding: 4, stepSize: panel.yStep, callback: v => formatTick(v, panel.yStep === 2.5 ? 1 : 0) },
                    title: {
                        display: !!panel.titles,
                        text: 'Observed Flux (1e-17 erg/s/cm/cm/Å)',
                        color: '#000',
                        font: TICK_FONT,
                        padding: { top: 22, bottom: 22 }
                    }
                }
            }
        },
        plugins: [panelDecor]
    });
}

function addLabel(page, text, x, y, size, rotated) {
    const div = document.createElement('div');
    div.className = 'big';
    div.textContent = text;
    div.style.left = x + 'px';
    div.style.top = y + 'px';
    div.style.fontSize = size + 'px';
    if (rotated) div.style.transform = 'translate(-50%, -50%) rotate(-90deg)';
    page.appendChild(div);
}

const page = document.getElementById('page');
const frame = document.createElement('div');
frame.id = 'frame';
frame.style.cssText = 'left:1405px;top:41px;width:839px;height:795px;';
page.appendChild(frame);

panels.forEach(panel => renderPanel(page, panel));
columnTitles.forEach(([text, x, y]) => addLabel(page, text, x, y, 53));
rowTitles.forEach(([text, x, y]) => addLabel(page, text, x, y, 53, true));
sigmaLabels.forEach(([text, x, y]) => addLabel(page, text, x, y, 35));
</script>
</body>
</html>
